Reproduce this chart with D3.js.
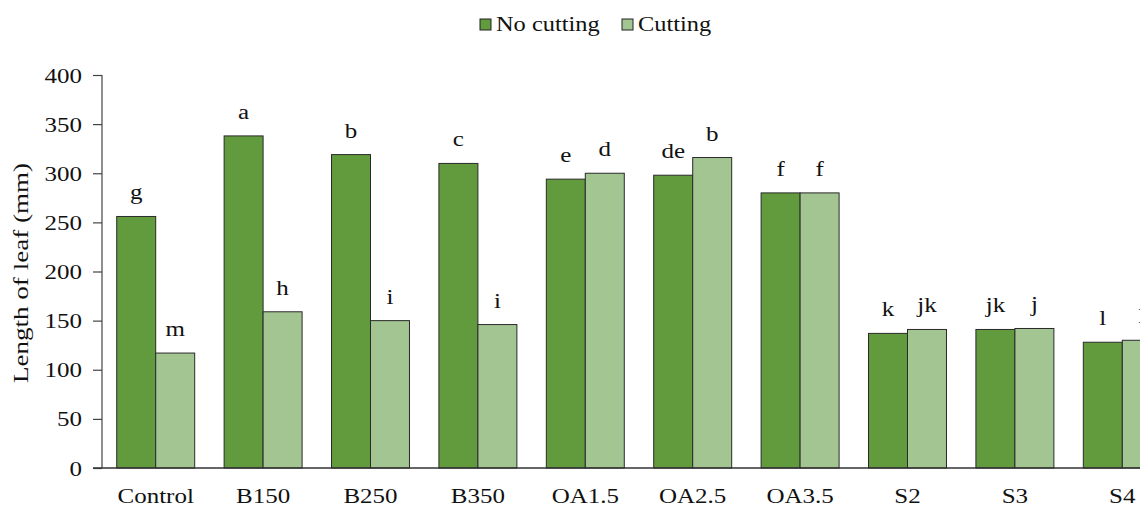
<!DOCTYPE html>
<html>
<head>
<meta charset="utf-8">
<script src="https://cdn.jsdelivr.net/npm/d3@7"></script>
<style>
  html, body { margin: 0; padding: 0; background: #fff; overflow: hidden; }
  svg { display: block; }
  svg text { font-family: "Liberation Serif", "Times New Roman", serif; fill: #111; }
</style>
</head>
<body>
<svg id="chart" width="1140" height="506"></svg>
<script>
// Leaf length (mm) per treatment, with and without cutting
const categories = ["Control", "B150", "B250", "B350", "OA1.5", "OA2.5", "OA3.5", "S2", "S3", "S4"];
const seriesNames = ["No cutting", "Cutting"];
const noCutting = [256, 338, 319, 310, 294, 298, 280, 137, 141, 128];
const cutting   = [117, 159, 150, 146, 300, 316, 280, 141, 142, 130];
const lettersNoCutting = ["g", "a", "b", "c", "e", "de", "f", "k", "jk", "l"];
const lettersCutting   = ["m", "h", "i", "i", "d", "b", "f", "jk", "j", "l"];
const yTicks = [0, 50, 100, 150, 200, 250, 300, 350, 400];

const colors = ["#629a3e", "#a3c592"];
const stretch = 1.25; // wide text setting used throughout the figure

const svg = d3.select("#chart");

const x0 = d3.scaleBand().domain(categories).range([102, 1176]).paddingInner(0.274).paddingOuter(0.137);
const x1 = d3.scaleBand().domain(seriesNames).range([0, x0.bandwidth()]);
const y = d3.scaleLinear().domain([0, 400]).range([468, 75]);

const rows = categories.map((c, i) => ({
  cat: c,
  vals: [
    { s: seriesNames[0], v: noCutting[i], l: lettersNoCutting[i] },
    { s: seriesNames[1], v: cutting[i], l: lettersCutting[i] }
  ]
}));

// Bars
const groups = svg.append("g").selectAll("g").data(rows).join("g")
  .attr("transform", d => `translate(${x0(d.cat)},0)`);

groups.selectAll("rect").data(d => d.vals).join("rect")
  .attr("x", d => x1(d.s))
  .attr("y", d => y(d.v))
  .attr("width", x1.bandwidth())
  .attr("height", d => y(0) - y(d.v))
  .attr("fill", (d, i) => colors[i])
  .attr("stroke", "#2a2a2a")
  .attr("stroke-width", 1);

// Significance letters
groups.selectAll("text").data(d => d.vals).join("text")
  .attr("transform", d => `translate(${x1(d.s) + x1.bandwidth() / 2},${y(d.v) - 17}) scale(${stretch},1)`)
  .attr("text-anchor", "middle")
  .attr("font-size", 20)
  .text(d => d.l);

// Y axis
const yAxis = d3.axisLeft(y).tickValues(yTicks).tickSize(9).tickFormat(d3.format("d"));
const yg = svg.append("g").attr("transform", "translate(102,0)").call(yAxis);
yg.attr("font-family", null).attr("font-size", null);
yg.select(".domain").attr("stroke", "#444").attr("stroke-width", 1.2).attr("d", "M0,75V468");
yg.selectAll(".tick line").attr("stroke", "#444").attr("stroke-width", 1.2);
yg.selectAll(".tick text")
  .attr("x", -20 / stretch)
  .attr("dy", "0.35em")
  .attr("transform", `scale(${stretch},1)`)
  .attr("font-size", 20)
  .attr("fill", "#111");

// X axis
const xAxis = d3.axisBottom(x0).tickSize(0);
const xg = svg.append("g").attr("transform", "translate(0,468)").call(xAxis);
xg.attr("font-family", null).attr("font-size", null);
xg.select(".domain").attr("stroke", "#333").attr("stroke-width", 1.5).attr("d", "M93,0H1176");
xg.selectAll(".tick text")
  .attr("y", 35)
  .attr("dy", 0)
  .attr("transform", `scale(${stretch},1)`)
  .attr("font-size", 20)
  .attr("fill", "#111");

// Y title
svg.append("text")
  .attr("transform", `translate(28,273) rotate(-90) scale(1.29,1)`)
  .attr("text-anchor", "middle")
  .attr("font-size", 21)
  .text("Length of leaf (mm)");

// Legend
const legendX = [480, 622];
const legend = svg.append("g").selectAll("g").data(seriesNames).join("g")
  .attr("transform", (d, i) => `translate(${legendX[i]},19)`);
legend.append("rect")
  .attr("width", 11).attr("height", 11)
  .attr("fill", (d, i) => colors[i])
  .attr("stroke", "#222").attr("stroke-width", 1);
legend.append("text")
  .attr("transform", `translate(16,12) scale(1.22,1)`)
  .attr("font-size", 20)
  .text(d => d);
</script>
</body>
</html>
